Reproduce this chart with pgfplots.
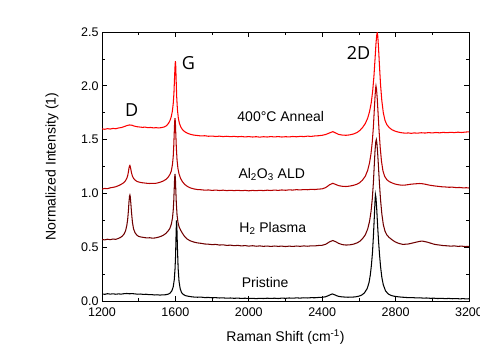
\documentclass[border=0pt]{standalone}
\usepackage{fontspec}
\setmainfont{Liberation Sans}
\newfontfamily\annfont{Open Sans}
\usepackage{pgfplots}
\pgfplotsset{compat=1.18}
\definecolor{cAnneal}{HTML}{FF0000}
\definecolor{cALD}{HTML}{B40000}
\definecolor{cH}{HTML}{6E0000}
\begin{document}
\begin{tikzpicture}
\path[use as bounding box] (0,0) rectangle (480pt,360pt);
\begin{axis}[
 at={(102pt,59pt)}, anchor=south west,
 scale only axis, width=367pt, height=269pt,
 xmin=1200, xmax=3200, ymin=0, ymax=2.5,
 xtick={1200,1600,2000,2400,2800,3200}, minor x tick num=1,
 ytick={0,0.5,1,1.5,2,2.5}, minor y tick num=1,
 tick align=inside, major tick length=5pt, minor tick length=3pt,
 axis line style={line width=0.8pt}, every tick/.style={black, line width=0.7pt},
 scaled x ticks=false, scaled y ticks=false,
 /pgf/number format/assume math mode=true,
 xticklabel style={font=\fontsize{12.5}{14}\selectfont, yshift=-3.5pt, /pgf/number format/1000 sep={}},
 yticklabel style={font=\fontsize{12.5}{14}\selectfont, /pgf/number format/.cd, fixed, fixed zerofill, precision=1},
 xlabel={Raman Shift (cm\textsuperscript{-1})},
 ylabel={Normalized Intensity (1)},
 xlabel style={at={(axis description cs:0.5,-0.134)}, anchor=center, font=\fontsize{14}{16}\selectfont},
 ylabel style={at={(axis description cs:-0.136,0.5)}, anchor=center, font=\fontsize{14}{16}\selectfont},
 every axis plot/.append style={line width=1.05pt},
]
% Pristine
\addplot[black] coordinates {
(1200,0.066)(1215,0.062)(1230,0.068)(1245,0.064)(1260,0.067)(1275,0.063)(1290,0.066)(1305,0.064)(1320,0.068)(1335,0.070)(1350,0.067)(1365,0.069)(1380,0.066)(1395,0.063)(1410,0.065)(1425,0.061)(1440,0.063)(1455,0.059)(1470,0.060)(1485,0.056)(1500,0.058)(1515,0.055)(1530,0.057)(1545,0.058)(1560,0.063)(1570,0.072)(1580,0.092)(1588,0.130)(1594,0.200)(1598,0.300)(1601,0.420)(1604,0.640)(1606,0.750)(1608,0.690)(1611,0.500)(1615,0.300)(1620,0.180)(1626,0.115)(1633,0.080)(1642,0.062)(1655,0.050)(1670,0.044)(1685,0.040)(1700,0.037)(1720,0.035)(1740,0.036)(1760,0.032)(1780,0.033)(1800,0.030)(1820,0.031)(1840,0.028)(1860,0.029)(1880,0.026)(1900,0.028)(1920,0.025)(1940,0.027)(1960,0.024)(1980,0.026)(2000,0.023)(2020,0.025)(2040,0.022)(2060,0.025)(2080,0.023)(2100,0.026)(2120,0.024)(2140,0.026)(2160,0.023)(2180,0.027)(2200,0.025)(2220,0.028)(2240,0.026)(2260,0.029)(2280,0.027)(2300,0.030)(2320,0.028)(2340,0.031)(2360,0.030)(2380,0.033)(2400,0.034)(2420,0.040)(2440,0.055)(2455,0.066)(2470,0.056)(2485,0.045)(2500,0.040)(2520,0.037)(2540,0.035)(2560,0.036)(2580,0.038)(2600,0.045)(2615,0.055)(2630,0.075)(2645,0.115)(2655,0.170)(2662,0.240)(2668,0.330)(2674,0.450)(2679,0.600)(2684,0.780)(2687,0.900)(2690,0.990)(2693,0.960)(2697,0.860)(2702,0.700)(2707,0.560)(2712,0.440)(2718,0.320)(2725,0.220)(2733,0.150)(2745,0.095)(2760,0.065)(2775,0.052)(2790,0.045)(2810,0.040)(2830,0.036)(2850,0.034)(2870,0.031)(2890,0.032)(2910,0.029)(2930,0.030)(2950,0.027)(2970,0.028)(2990,0.025)(3010,0.026)(3030,0.023)(3050,0.025)(3070,0.022)(3090,0.024)(3110,0.021)(3130,0.023)(3150,0.020)(3170,0.022)(3185,0.019)(3200,0.021)
};
% H2 plasma
\addplot[cH] coordinates {
(1200,0.572)(1215,0.568)(1230,0.574)(1245,0.570)(1260,0.576)(1275,0.573)(1290,0.582)(1300,0.590)(1310,0.602)(1320,0.622)(1328,0.650)(1335,0.700)(1340,0.760)(1344,0.840)(1347,0.920)(1350,0.975)(1352,0.985)(1354,0.970)(1357,0.910)(1361,0.820)(1366,0.730)(1372,0.670)(1380,0.635)(1390,0.612)(1400,0.600)(1415,0.594)(1430,0.590)(1445,0.586)(1460,0.588)(1475,0.584)(1490,0.586)(1505,0.592)(1520,0.600)(1535,0.612)(1548,0.628)(1560,0.650)(1570,0.675)(1578,0.715)(1584,0.770)(1588,0.840)(1591,0.930)(1594,1.060)(1596,1.150)(1598,1.180)(1600,1.140)(1602,1.040)(1605,0.910)(1609,0.800)(1614,0.730)(1620,0.690)(1628,0.660)(1638,0.630)(1650,0.600)(1665,0.575)(1680,0.560)(1700,0.548)(1720,0.540)(1740,0.536)(1760,0.530)(1780,0.528)(1800,0.524)(1820,0.526)(1840,0.520)(1860,0.522)(1880,0.517)(1900,0.519)(1920,0.514)(1940,0.517)(1960,0.512)(1980,0.515)(2000,0.510)(2020,0.514)(2040,0.509)(2060,0.512)(2080,0.508)(2100,0.511)(2120,0.507)(2140,0.511)(2160,0.508)(2180,0.510)(2200,0.506)(2220,0.510)(2240,0.507)(2260,0.511)(2280,0.508)(2300,0.512)(2320,0.509)(2340,0.513)(2360,0.512)(2380,0.516)(2400,0.518)(2420,0.528)(2440,0.550)(2458,0.562)(2475,0.550)(2490,0.535)(2510,0.524)(2530,0.520)(2550,0.522)(2570,0.528)(2590,0.540)(2605,0.555)(2620,0.580)(2635,0.615)(2648,0.670)(2658,0.740)(2666,0.830)(2673,0.950)(2679,1.100)(2684,1.270)(2688,1.400)(2692,1.480)(2695,1.500)(2698,1.470)(2702,1.380)(2707,1.240)(2712,1.090)(2718,0.940)(2725,0.810)(2733,0.710)(2742,0.650)(2752,0.615)(2765,0.590)(2780,0.570)(2795,0.552)(2810,0.540)(2825,0.532)(2840,0.526)(2855,0.528)(2870,0.530)(2885,0.536)(2900,0.542)(2915,0.548)(2930,0.554)(2945,0.557)(2960,0.552)(2975,0.546)(2990,0.538)(3005,0.530)(3020,0.524)(3040,0.520)(3060,0.515)(3080,0.513)(3100,0.510)(3120,0.512)(3140,0.508)(3160,0.510)(3180,0.506)(3200,0.508)
};
% Al2O3 ALD
\addplot[cALD] coordinates {
(1200,1.040)(1215,1.046)(1230,1.044)(1245,1.052)(1260,1.056)(1275,1.062)(1290,1.072)(1300,1.080)(1310,1.090)(1320,1.102)(1328,1.118)(1335,1.140)(1340,1.165)(1344,1.200)(1347,1.235)(1350,1.255)(1352,1.260)(1354,1.250)(1357,1.225)(1361,1.190)(1366,1.160)(1372,1.140)(1380,1.124)(1390,1.112)(1400,1.106)(1415,1.100)(1430,1.097)(1445,1.094)(1460,1.092)(1475,1.094)(1490,1.093)(1505,1.098)(1520,1.106)(1535,1.116)(1548,1.130)(1560,1.150)(1570,1.175)(1578,1.210)(1584,1.270)(1588,1.340)(1591,1.440)(1594,1.580)(1596,1.670)(1598,1.700)(1600,1.660)(1602,1.560)(1605,1.430)(1609,1.310)(1614,1.230)(1620,1.180)(1628,1.140)(1638,1.110)(1650,1.085)(1665,1.065)(1680,1.052)(1700,1.042)(1720,1.036)(1740,1.034)(1760,1.030)(1780,1.032)(1800,1.028)(1820,1.031)(1840,1.027)(1860,1.030)(1880,1.026)(1900,1.029)(1920,1.026)(1940,1.029)(1960,1.025)(1980,1.028)(2000,1.024)(2020,1.028)(2040,1.025)(2060,1.029)(2080,1.026)(2100,1.030)(2120,1.027)(2140,1.031)(2160,1.028)(2180,1.032)(2200,1.029)(2220,1.033)(2240,1.031)(2260,1.035)(2280,1.032)(2300,1.036)(2320,1.034)(2340,1.038)(2360,1.036)(2380,1.040)(2400,1.042)(2420,1.055)(2440,1.080)(2458,1.094)(2475,1.082)(2490,1.072)(2510,1.066)(2530,1.064)(2550,1.068)(2570,1.075)(2590,1.086)(2605,1.100)(2620,1.125)(2635,1.160)(2648,1.215)(2658,1.285)(2666,1.370)(2673,1.480)(2679,1.620)(2684,1.780)(2688,1.900)(2691,1.975)(2693,2.000)(2696,1.970)(2700,1.880)(2705,1.730)(2710,1.580)(2716,1.430)(2723,1.300)(2731,1.210)(2740,1.160)(2752,1.128)(2765,1.110)(2780,1.098)(2795,1.088)(2810,1.082)(2825,1.078)(2840,1.076)(2855,1.078)(2870,1.082)(2885,1.086)(2900,1.088)(2915,1.090)(2930,1.092)(2945,1.090)(2960,1.086)(2975,1.080)(2990,1.075)(3010,1.070)(3030,1.066)(3050,1.062)(3070,1.060)(3090,1.057)(3110,1.058)(3130,1.054)(3150,1.055)(3170,1.051)(3185,1.053)(3200,1.050)
};
% 400 C anneal
\addplot[cAnneal] coordinates {
(1200,1.600)(1215,1.596)(1230,1.602)(1245,1.598)(1260,1.604)(1275,1.601)(1290,1.608)(1305,1.612)(1320,1.620)(1335,1.630)(1350,1.636)(1362,1.634)(1375,1.626)(1390,1.620)(1405,1.617)(1420,1.614)(1435,1.616)(1450,1.611)(1465,1.613)(1480,1.609)(1495,1.611)(1510,1.608)(1525,1.612)(1540,1.618)(1552,1.630)(1562,1.650)(1570,1.675)(1577,1.710)(1583,1.760)(1588,1.830)(1592,1.930)(1595,2.060)(1598,2.180)(1600,2.230)(1602,2.180)(1604,2.060)(1607,1.900)(1611,1.780)(1616,1.700)(1622,1.650)(1630,1.615)(1640,1.590)(1652,1.572)(1665,1.560)(1680,1.550)(1700,1.542)(1720,1.538)(1740,1.534)(1760,1.536)(1780,1.531)(1800,1.533)(1820,1.529)(1840,1.532)(1860,1.528)(1880,1.531)(1900,1.527)(1920,1.530)(1940,1.526)(1960,1.529)(1980,1.525)(2000,1.528)(2020,1.524)(2040,1.527)(2060,1.523)(2080,1.527)(2100,1.524)(2120,1.528)(2140,1.525)(2160,1.528)(2180,1.524)(2200,1.527)(2220,1.525)(2240,1.529)(2260,1.526)(2280,1.530)(2300,1.528)(2320,1.532)(2340,1.530)(2360,1.534)(2380,1.536)(2400,1.540)(2420,1.548)(2440,1.562)(2458,1.574)(2475,1.560)(2490,1.548)(2510,1.542)(2530,1.540)(2550,1.544)(2570,1.552)(2590,1.566)(2605,1.585)(2620,1.612)(2635,1.650)(2648,1.700)(2658,1.760)(2667,1.840)(2675,1.950)(2682,2.090)(2688,2.250)(2693,2.390)(2697,2.470)(2700,2.495)(2703,2.460)(2707,2.350)(2712,2.190)(2718,2.010)(2725,1.860)(2733,1.750)(2742,1.680)(2752,1.640)(2765,1.612)(2780,1.592)(2795,1.580)(2810,1.572)(2825,1.566)(2840,1.562)(2855,1.560)(2870,1.562)(2885,1.558)(2900,1.562)(2920,1.560)(2940,1.564)(2960,1.561)(2980,1.565)(3000,1.562)(3020,1.566)(3040,1.563)(3060,1.567)(3080,1.564)(3100,1.568)(3120,1.565)(3140,1.569)(3160,1.566)(3180,1.570)(3200,1.572)
};
\node[anchor=base west, inner sep=0, font=\fontsize{14}{16}\selectfont] at (axis cs:1937,1.667) {400°C Anneal};
\node[anchor=base west, inner sep=0, font=\fontsize{14}{16}\selectfont] at (axis cs:1943,1.140) {Al\textsubscript{2}O\textsubscript{3} ALD};
\node[anchor=base west, inner sep=0, font=\fontsize{14}{16}\selectfont] at (axis cs:1948,0.635) {H\textsubscript{2} Plasma};
\node[anchor=base west, inner sep=0, font=\fontsize{14}{16}\selectfont] at (axis cs:1961,0.124) {Pristine};
\node[anchor=base west, inner sep=0, font=\annfont\fontsize{18}{20}\selectfont] at (axis cs:1325,1.719) {D};
\node[anchor=base west, inner sep=0, font=\annfont\fontsize{18}{20}\selectfont] at (axis cs:1634,2.153) {G};
\node[anchor=base west, inner sep=0, font=\annfont\fontsize{18}{20}\selectfont] at (axis cs:2533,2.240) {2D};
\end{axis}
\end{tikzpicture}
\end{document}
